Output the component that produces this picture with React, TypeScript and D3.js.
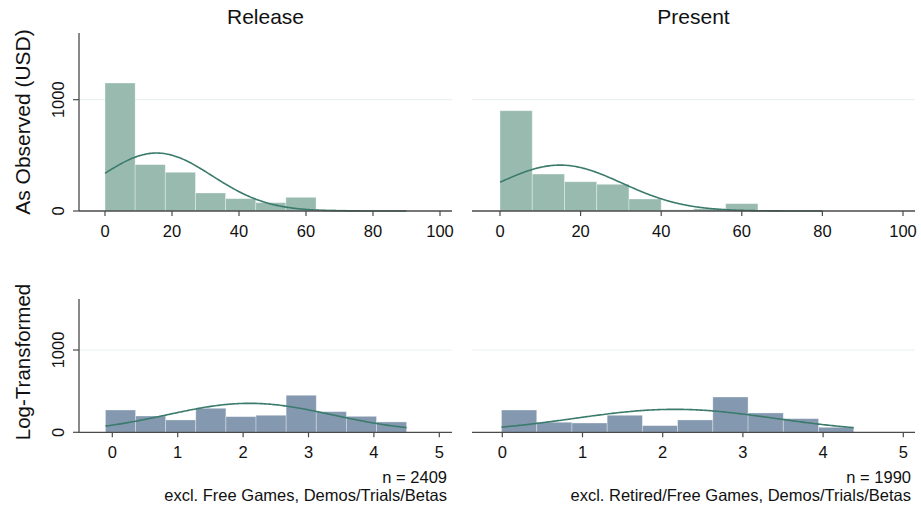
import React from 'react';
import * as d3 from 'd3';

// ---------- data ----------
const columnTitles = ['Release', 'Present'];
const rowTitles = ['As Observed (USD)', 'Log-Transformed'];
const rawXTicks = [0, 20, 40, 60, 80, 100];
const logXTicks = [0, 1, 2, 3, 4, 5];
const yTicks = [0, 1000];
const sampleSizes = [2409, 1990];
const noteLines = ['excl. Free Games, Demos/Trials/Betas', 'excl. Retired/Free Games, Demos/Trials/Betas'];

// histogram counts (10 equal-width bins each)
const releaseRawCounts = [1150, 417, 348, 162, 111, 75, 123, 12, 6, 5];
const presentRawCounts = [901, 332, 263, 240, 108, 10, 20, 66, 5, 3];
const releaseLogCounts = [271, 198, 150, 292, 190, 207, 450, 251, 194, 126];
const presentLogCounts = [271, 122, 113, 207, 81, 150, 429, 235, 166, 61];

// bin start & width
const releaseRawBins = [0, 9];
const presentRawBins = [0, 8];
const releaseLogBins = [-0.105, 0.4605];
const presentLogBins = [-0.01, 0.4392];

// fitted normal curves: mean, sd
const releaseRawNormal = [15.4, 16.6];
const presentRawNormal = [14.9, 15.4];
const releaseLogNormal = [2.1, 1.257];
const presentLogNormal = [2.15, 1.25];

// ---------- layout / style ----------
const W = 921;
const H = 508;
const FONT = '"Liberation Sans", Arial, Helvetica, sans-serif';
const RAW_FILL = '#99bbaf';
const LOG_FILL = '#8499b0';
const CURVE = '#3b7b6c';
const AXIS = '#4a4a4a';
const GRID = '#eaf1f1';

type Panel = {
  counts: number[];
  bins: number[];
  normal: number[];
  n: number;
  fill: string;
  xDomain: [number, number];
  xRange: [number, number];
  axisX: [number, number];
  y0: number;
  y1000: number;
  yTop: number;
  xTicks: number[];
  showY: boolean;
};

const panels: Panel[] = [
  { counts: releaseRawCounts, bins: releaseRawBins, normal: releaseRawNormal, n: sampleSizes[0], fill: RAW_FILL,
    xDomain: [0, 100], xRange: [105, 440], axisX: [79, 452], y0: 211, y1000: 99.7, yTop: 33, xTicks: rawXTicks, showY: true },
  { counts: presentRawCounts, bins: presentRawBins, normal: presentRawNormal, n: sampleSizes[1], fill: RAW_FILL,
    xDomain: [0, 100], xRange: [500, 903], axisX: [472, 915], y0: 211, y1000: 99.7, yTop: 33, xTicks: rawXTicks, showY: false },
  { counts: releaseLogCounts, bins: releaseLogBins, normal: releaseLogNormal, n: sampleSizes[0], fill: LOG_FILL,
    xDomain: [0, 5], xRange: [112.3, 439.3], axisX: [79, 452], y0: 432.3, y1000: 350, yTop: 299, xTicks: logXTicks, showY: true },
  { counts: presentLogCounts, bins: presentLogBins, normal: presentLogNormal, n: sampleSizes[1], fill: LOG_FILL,
    xDomain: [0, 5], xRange: [502.3, 903.3], axisX: [472, 915], y0: 432.3, y1000: 350, yTop: 299, xTicks: logXTicks, showY: false },
];

function PanelView({ p }: { p: Panel }) {
  const x = d3.scaleLinear().domain(p.xDomain).range(p.xRange);
  const y = d3.scaleLinear().domain([0, 1000]).range([p.y0, p.y1000]);
  const [start, width] = p.bins;
  const [mu, sd] = p.normal;
  const end = start + width * p.counts.length;
  const scale = p.n * width / (sd * Math.sqrt(2 * Math.PI));
  const pts = d3.range(0, 201).map((i) => {
    const v = start + ((end - start) * i) / 200;
    return [v, scale * Math.exp(-((v - mu) ** 2) / (2 * sd * sd))] as [number, number];
  });
  const line = d3.line<[number, number]>().x((d) => x(d[0])).y((d) => y(d[1])).curve(d3.curveBasis);
  return (
    <g>
      <line x1={p.axisX[0]} x2={p.axisX[1]} y1={y(1000)} y2={y(1000)} stroke={GRID} strokeWidth={1.2} />
      {p.counts.map((c, i) => {
        const x0 = x(start + i * width);
        const x1 = x(start + (i + 1) * width);
        return (
          <rect key={i} x={x0} y={y(c)} width={x1 - x0} height={p.y0 - y(c)} fill={p.fill}
            stroke="rgba(255,255,255,0.4)" strokeWidth={0.8} />
        );
      })}
      <path d={line(pts) || ''} fill="none" stroke={CURVE} strokeWidth={1.6} />
      <line x1={p.axisX[0]} x2={p.axisX[1]} y1={p.y0} y2={p.y0} stroke={AXIS} strokeWidth={1.3} />
      {p.xTicks.map((t) => (
        <g key={t}>
          <line x1={x(t)} x2={x(t)} y1={p.y0} y2={p.y0 + 5} stroke={AXIS} strokeWidth={1.2} />
          <text x={x(t)} y={p.y0 + 26} textAnchor="middle" fontSize={16.5} fill="#111">{t}</text>
        </g>
      ))}
      {p.showY && (
        <g>
          <line x1={p.axisX[0]} x2={p.axisX[0]} y1={p.yTop} y2={p.y0} stroke={AXIS} strokeWidth={1.3} />
          {yTicks.map((t) => (
            <g key={t}>
              <line x1={p.axisX[0] - 6} x2={p.axisX[0]} y1={y(t)} y2={y(t)} stroke={AXIS} strokeWidth={1.2} />
              <text transform={`translate(64,${y(t)}) rotate(-90)`} textAnchor="middle" fontSize={16.5} fill="#111">{t}</text>
            </g>
          ))}
        </g>
      )}
    </g>
  );
}

export default function App() {
  return (
    <svg width={W} height={H} style={{ position: 'absolute', left: 0, top: 0, background: '#fff' }} fontFamily={FONT}>
      <rect x={0} y={0} width={W} height={H} fill="#fff" />
      {panels.map((p, i) => <PanelView key={i} p={p} />)}
      <text x={265.5} y={24} textAnchor="middle" fontSize={21} fill="#111">{columnTitles[0]}</text>
      <text x={693.5} y={24} textAnchor="middle" fontSize={21} fill="#111">{columnTitles[1]}</text>
      <text transform="translate(30,122) rotate(-90)" textAnchor="middle" fontSize={21} fill="#111">{rowTitles[0]}</text>
      <text transform="translate(30,362) rotate(-90)" textAnchor="middle" fontSize={20.5} fill="#111">{rowTitles[1]}</text>
      <text x={447} y={483} textAnchor="end" fontSize={16.5} fill="#111">{`n = ${sampleSizes[0]}`}</text>
      <text x={447} y={501} textAnchor="end" fontSize={16.5} fill="#111">{noteLines[0]}</text>
      <text x={911} y={483} textAnchor="end" fontSize={16.5} fill="#111">{`n = ${sampleSizes[1]}`}</text>
      <text x={911} y={501} textAnchor="end" fontSize={16.5} fill="#111">{noteLines[1]}</text>
    </svg>
  );
}
